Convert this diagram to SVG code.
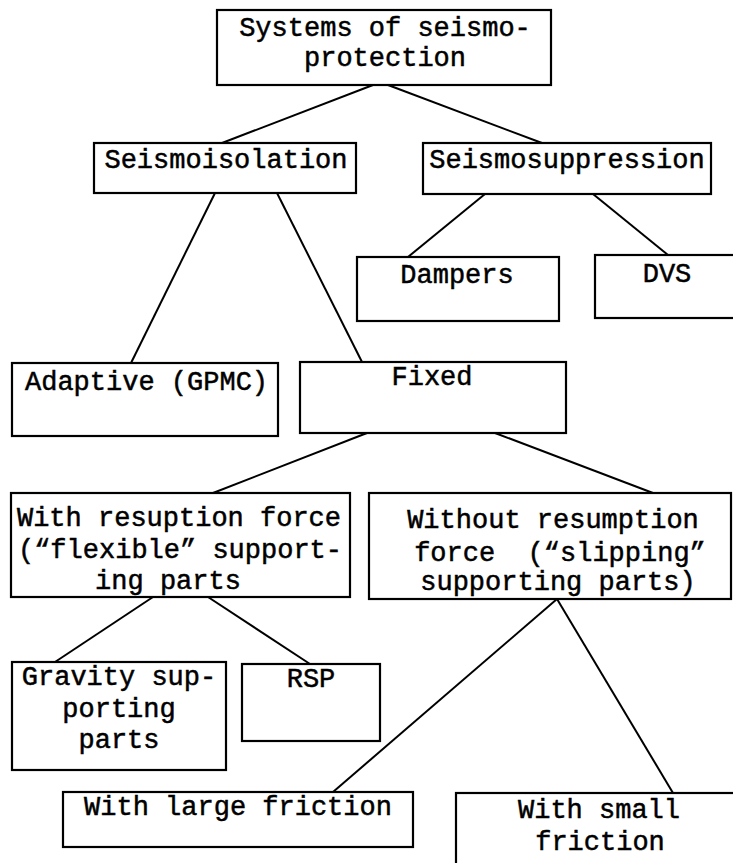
<svg xmlns="http://www.w3.org/2000/svg" width="733" height="863" viewBox="0 0 733 863">
<style>
.box{fill:#fff;stroke:#000;stroke-width:2.2}
.t{font-family:"Liberation Mono","Courier New",monospace;font-size:27px;fill:#000;stroke:#000;stroke-width:0.5;text-anchor:middle;white-space:pre}
.l{stroke:#000;stroke-width:2;fill:none}
</style>
<rect width="733" height="863" fill="#fff"/>
<g id="connectors">
<line class="l" x1="373" y1="85" x2="222" y2="143"/>
<line class="l" x1="388" y1="85" x2="542" y2="143"/>
<line class="l" x1="215" y1="193" x2="131" y2="363"/>
<line class="l" x1="277" y1="193" x2="362" y2="362"/>
<line class="l" x1="485" y1="194" x2="408" y2="257"/>
<line class="l" x1="593" y1="194" x2="668" y2="255"/>
<line class="l" x1="367" y1="433" x2="213" y2="493"/>
<line class="l" x1="495" y1="433" x2="653" y2="493"/>
<line class="l" x1="153" y1="597" x2="55" y2="662"/>
<line class="l" x1="208" y1="597" x2="310" y2="664"/>
<line class="l" x1="557" y1="599" x2="333" y2="792"/>
<line class="l" x1="557" y1="599" x2="673" y2="793"/>
</g>
<g id="n-root">
<rect class="box" x="217" y="10" width="334" height="75"/>
<text class="t" x="385" y="36">Systems of seismo-</text>
<text class="t" x="385" y="66">protection</text>
</g>
<g id="n-isolation">
<rect class="box" x="94" y="143" width="262" height="50"/>
<text class="t" x="226" y="168">Seismoisolation</text>
</g>
<g id="n-suppression">
<rect class="box" x="423" y="143" width="288" height="51"/>
<text class="t" x="567" y="168">Seismosuppression</text>
</g>
<g id="n-dampers">
<rect class="box" x="357" y="257" width="202" height="64"/>
<text class="t" x="457" y="283">Dampers</text>
</g>
<g id="n-dvs">
<rect class="box" x="595" y="255" width="150" height="63"/>
<text class="t" x="667" y="282">DVS</text>
</g>
<g id="n-adaptive">
<rect class="box" x="12" y="363" width="266" height="73"/>
<text class="t" x="25" y="390" style="text-anchor:start">Adaptive (GPMC)</text>
</g>
<g id="n-fixed">
<rect class="box" x="300" y="362" width="266" height="71"/>
<text class="t" x="432" y="385">Fixed</text>
</g>
<g id="n-with-resumption">
<rect class="box" x="11" y="493" width="339" height="104"/>
<text class="t" x="179" y="526">With resuption force</text>
<text class="t" x="180" y="558">(“flexible” support-</text>
<text class="t" x="168" y="589">ing parts</text>
</g>
<g id="n-without-resumption">
<rect class="box" x="369" y="493" width="362" height="106"/>
<text class="t" x="553" y="528">Without resumption</text>
<text class="t" x="560" y="561">force  (“slipping”</text>
<text class="t" x="558" y="590">supporting parts)</text>
</g>
<g id="n-gravity">
<rect class="box" x="12" y="662" width="214" height="108"/>
<text class="t" x="119" y="685">Gravity sup-</text>
<text class="t" x="119" y="717">porting</text>
<text class="t" x="119" y="748">parts</text>
</g>
<g id="n-rsp">
<rect class="box" x="242" y="664" width="138" height="77"/>
<text class="t" x="311" y="687">RSP</text>
</g>
<g id="n-large-friction">
<rect class="box" x="63" y="792" width="350" height="55"/>
<text class="t" x="238" y="815">With large friction</text>
</g>
<g id="n-small-friction">
<rect class="box" x="456" y="793" width="290" height="80"/>
<text class="t" x="599" y="818">With small</text>
<text class="t" x="600" y="850">friction</text>
</g>
</svg>
